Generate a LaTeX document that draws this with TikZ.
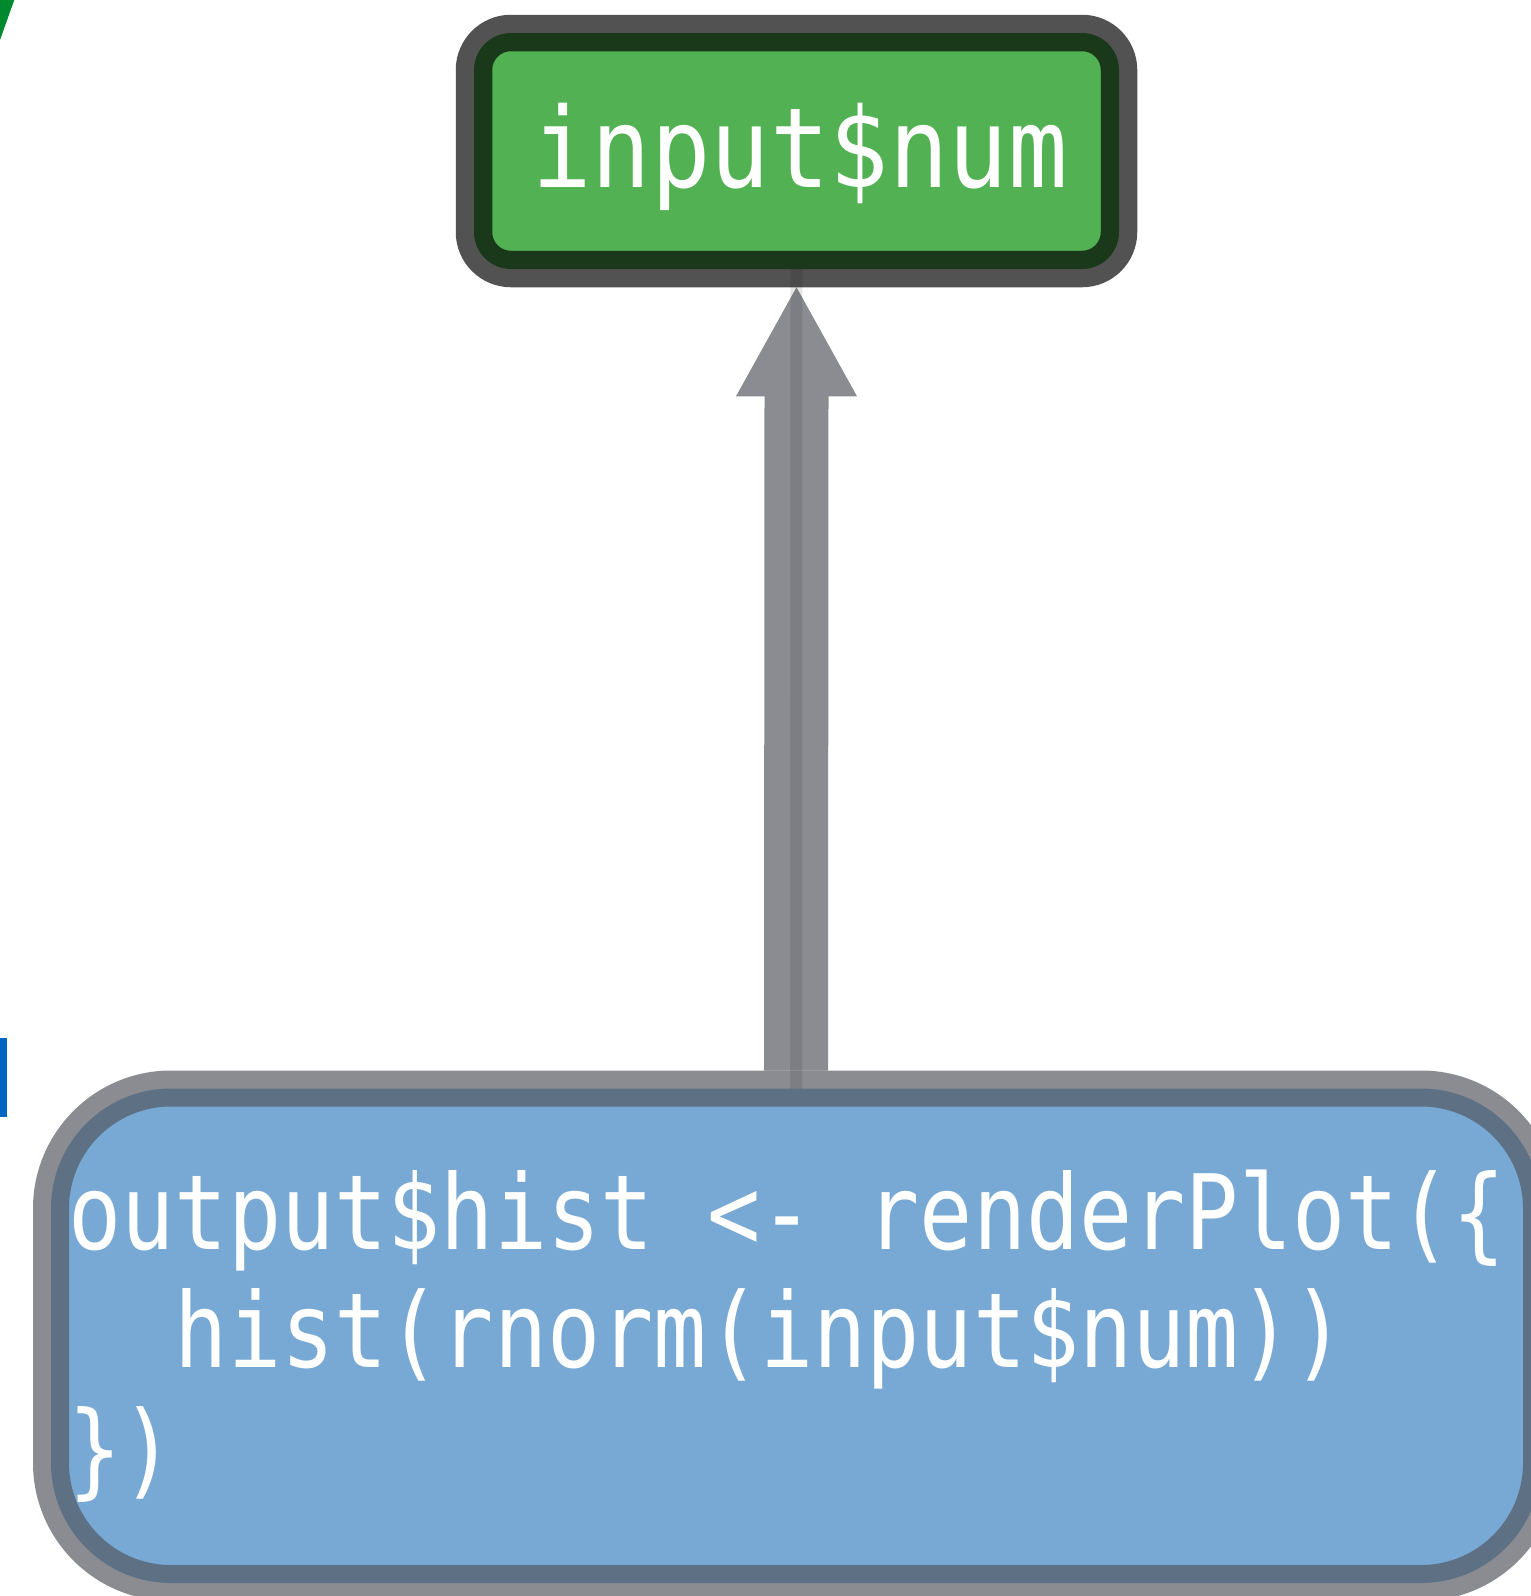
\documentclass[tikz,border=0pt]{standalone}
\usepackage{fontspec}
\newfontfamily\codefont[FakeStretch=0.85]{DejaVu Sans Mono}
\newfontfamily\labelfont[FakeStretch=0.89]{DejaVu Sans Mono}
\definecolor{numgreen}{HTML}{52B152}
\definecolor{plotblue}{HTML}{78A9D4}
\definecolor{flowgray}{RGB}{82,86,94}
\definecolor{markgreen}{HTML}{008A2E}
\definecolor{markblue}{HTML}{0066C2}

\begin{document}
\begin{tikzpicture}[x=0.5pt, y=-0.5pt,
    reactive/.style={rectangle, outer sep=0pt, inner sep=0pt},
    inputbox/.style={reactive, minimum width=322.5pt, minimum height=118pt,
      rounded corners=18.5pt, fill=numgreen, draw=black, draw opacity=0.68,
      line width=18.25pt},
    outputbox/.style={reactive, minimum width=745pt, minimum height=247.25pt,
      rounded corners=60pt, fill=plotblue, draw=flowgray, draw opacity=0.68,
      line width=18pt},
    code/.style={text=white, inner sep=0pt, align=left},
    flow/.style={fill=flowgray, fill opacity=0.68},
    flowline/.style={draw=black, draw opacity=0.1, line width=6pt}
  ]
  \useasboundingbox (0,0) rectangle (1531,1596);

  % cut-off bits at the left edge
  \fill[markgreen] (0,0) -- (14.3,0) -- (0,40) -- cycle;
  \fill[markblue] (0,1038) rectangle (7,1117);

  \node[inputbox] (num) at (796.5,151) {};
  \node[code, font=\labelfont\fontsize{55.5}{60}\selectfont, anchor=base]
    (numtext) at (800,187) {input\$num};

  \node[outputbox] (hist) at (796,1335.75) {};
  \node[code, font=\codefont\fontsize{52}{59}\selectfont, anchor=north west]
    (histcode) at (68,1170)
    {output\$hist <- renderPlot(\{\\
     \ \ hist(rnorm(input\$num))\\
     \})};

  % dependency arrow
  \coordinate (tip) at ([yshift=-9.125pt]num.south);
  \coordinate (tail) at ([yshift=9pt]hist.north);
  \fill[flow] (tip) -- ([shift={(30.25pt,-54.5pt)}]tip)
    -- ([shift={(16pt,-54.5pt)}]tip) -- ([xshift=16pt]tail)
    -- ([xshift=-16pt]tail) -- ([shift={(-16pt,-54.5pt)}]tip)
    -- ([shift={(-30.25pt,-54.5pt)}]tip) -- cycle;
  \draw[flowline] (num.south) -- (hist.north);

\end{tikzpicture}
\end{document}
